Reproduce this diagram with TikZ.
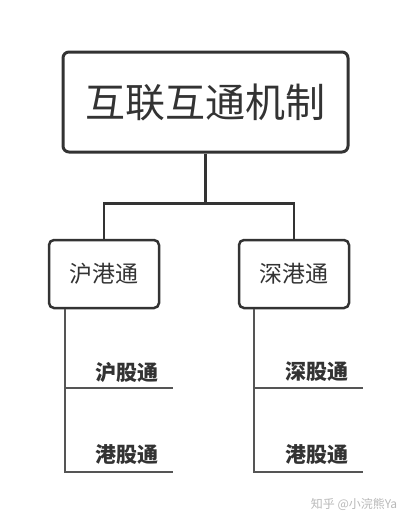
\documentclass[tikz,border=0pt]{standalone}
\usepackage{fontspec}
\usepackage{xcolor}
\usetikzlibrary{positioning,calc}
\newfontfamily\cjk{Noto Sans CJK SC}
\definecolor{frame}{HTML}{333333}
\definecolor{branchgray}{HTML}{555555}
\definecolor{markgray}{HTML}{B8B8B8}

\begin{document}
\begin{tikzpicture}[x=1pt, y=-1pt]
  \tikzset{
    mainbox/.style={draw=frame,line width=3pt,rounded corners=6pt,
                    minimum width=285pt,minimum height=100pt,
                    font=\cjk\fontsize{40}{44}\selectfont,text=frame},
    subbox/.style={draw=frame,line width=2.5pt,rounded corners=5pt,
                   minimum width=110pt,minimum height=68pt,
                   font=\cjk\fontsize{23}{26}\selectfont,text=frame},
    leaf/.style={font=\cjk\bfseries\fontsize{21}{24}\selectfont,text=frame,
                 inner sep=0pt},
    conn/.style={draw=frame,line width=2.5pt},
    branch/.style={draw=branchgray,line width=1.5pt}
  }
  \useasboundingbox (0,0) rectangle (415,525);

  % Top: mechanism
  \node[mainbox] (top) at (205.5,102) {互联互通机制};

  % Middle: the two connects
  \node[subbox] (hu)   at (104,274) {沪港通};
  \node[subbox] (shen) at (294,274) {深港通};
  \draw[conn] (top.south) -- ++(0,50) coordinate (split) -| (hu.north);
  \draw[conn] (split) -| (shen.north);

  % Bottom left
  \node[leaf] (hug) at (126.5,372) {沪股通};
  \node[leaf] (hgl) at (126.5,455) {港股通};
  \coordinate (hu1) at (173,388);
  \coordinate (hu2) at (173,472);
  \draw[branch] ([xshift=17pt]hu.south west) |- (hu2);
  \draw[branch] ([xshift=17pt]hu.south west |- hu1) -- (hu1);

  % Bottom right
  \node[leaf] (sg)  at (316.5,372) {深股通};
  \node[leaf] (hgr) at (316.5,455) {港股通};
  \coordinate (sh1) at (363,388);
  \coordinate (sh2) at (363,472);
  \draw[branch] ([xshift=16pt]shen.south west) |- (sh2);
  \draw[branch] ([xshift=16pt]shen.south west |- sh1) -- (sh1);

  % Watermark
  \node[font=\cjk\fontsize{12}{14}\selectfont,text=markgray] (mark)
    at (354,504) {知乎 @小浣熊Ya};
\end{tikzpicture}
\end{document}
